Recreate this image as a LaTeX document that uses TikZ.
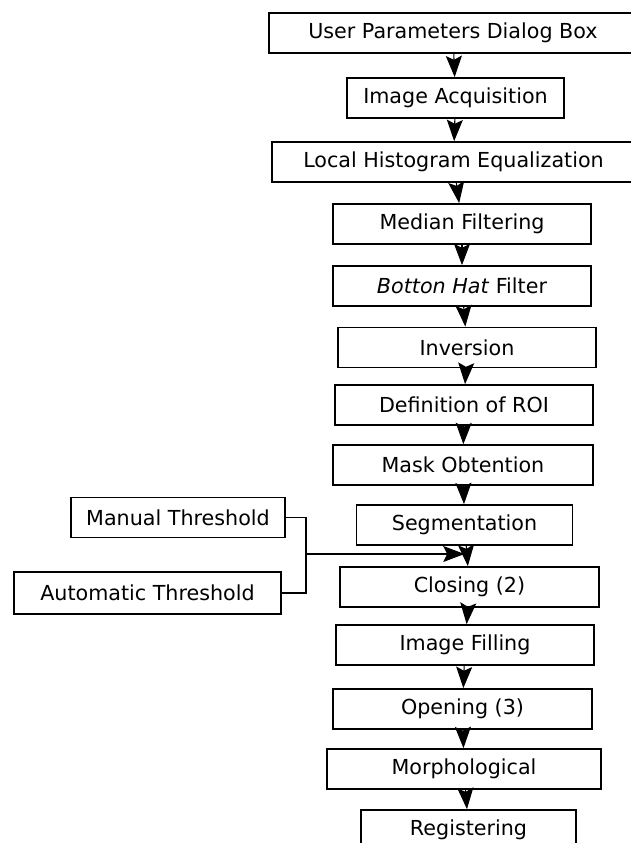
\documentclass[tikz,border=0pt]{standalone}
\usepackage{fontspec}
\setmainfont{DejaVu Sans}
\usetikzlibrary{arrows.meta}

\begin{document}
\begin{tikzpicture}[x=0.75pt, y=-0.75pt,
    stage/.style={draw, line width=1.3pt, minimum height=30pt, inner sep=0pt,
      font=\fontsize{15.5}{18}\selectfont},
    flow/.style={-{Stealth[length=16pt, width=12pt, inset=3pt]}, line width=0.8pt}]
        \useasboundingbox (0,0) rectangle (631,843);

        \node[stage, minimum width=276pt] (usr) at (453,33) {User Parameters Dialog Box};
        \node[stage, minimum width=162.75pt] (acq) at (455.5,98) {Image Acquisition};
        \node[stage, minimum width=272.25pt] (hist) at (453.5,162) {Local Histogram Equalization};
        \node[stage, minimum width=193.5pt] (med) at (462,224) {Median Filtering};
        \node[stage, minimum width=193.5pt] (bot) at (462,286) {\textit{Botton Hat} Filter};
        \node[stage, minimum width=193.5pt] (inv) at (467,347.5) {Inversion};
        \node[stage, minimum width=193.5pt] (roi) at (464,405) {Definition of ROI};
        \node[stage, minimum width=195pt] (mask) at (463,465) {Mask Obtention};
        \node[stage, minimum width=162pt] (seg) at (464.5,525) {Segmentation};
        \node[stage, minimum width=194.25pt] (clo) at (469.5,587) {Closing (2)};
        \node[stage, minimum width=193.5pt] (fill) at (465,645) {Image Filling};
        \node[stage, minimum width=194.25pt] (open) at (462.5,709) {Opening (3)};
        \node[stage, minimum width=205.5pt] (morph) at (464,769) {Morphological};
        \node[stage, minimum width=161.25pt] (reg) at (468.5,830) {Registering};

        \node[stage, minimum width=160.5pt] (man) at (178,517.5) {Manual Threshold};
        \node[stage, minimum width=200.25pt, minimum height=31.5pt] (aut) at (147.5,593) {Automatic Threshold};
        \coordinate (jn) at (306,554);

        \path (usr) edge[flow] (acq);
        \path (acq) edge[flow] (hist);
        \path (hist) edge[flow] (med);
        \path (med) edge[flow] (bot);
        \path (bot) edge[flow] (inv);
        \path (inv) edge[flow] (roi);
        \path (roi) edge[flow] (mask);
        \path (mask) edge[flow] (seg);
        \path (seg) edge[flow] (clo);
        \path (clo) edge[flow] (fill);
        \path (fill) edge[flow] (open);
        \path (open) edge[flow] (morph);
        \path (morph) edge[flow] (reg);

        \draw[line width=1.3pt] (man.east) -| (jn) |- (aut.east);
        \draw[flow] (jn) -- (jn -| seg.south);
\end{tikzpicture}
\end{document}
